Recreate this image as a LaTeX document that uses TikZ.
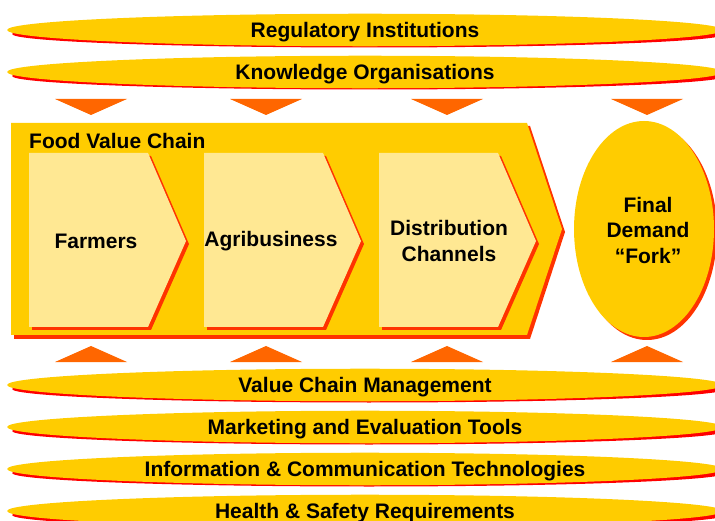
\documentclass[tikz,border=0pt]{standalone}
\usepackage{fontspec}
\setmainfont{Liberation Sans}
\usetikzlibrary{shapes.geometric}
\definecolor{gold}{HTML}{FFCC00}
\definecolor{pale}{HTML}{FFE893}
\definecolor{shred}{HTML}{FF0000}
\definecolor{chred}{HTML}{FF3300}
\definecolor{tri}{HTML}{FF6600}
\tikzset{
  band/.style={ellipse, fill=gold, minimum width=716, minimum height=27, inner sep=0pt,
    text height=19pt, text depth=4pt,
    font=\bfseries\fontsize{21}{24}\selectfont},
  lbl/.style={font=\bfseries\fontsize{21}{25.5}\selectfont, align=center, inner sep=0pt},
}
\newcommand{\bandat}[3]{%
  \fill[shred] (369,#1+4) ellipse (357 and 13.5);
  \node[band] (#2) at (365,#1) {#3};}
\newcommand{\dtri}[2]{\fill[tri] (#1-36,#2) -- (#1+36,#2) -- (#1,#2+16) -- cycle;}
\newcommand{\utri}[2]{\fill[tri] (#1-36,#2) -- (#1+36,#2) -- (#1,#2-16) -- cycle;}
\newcommand{\chev}[1]{%
  \fill[chred] (#1+3,156) -- (#1+122,156) -- (#1+160,244) -- (#1+122,330) -- (#1+3,330) -- cycle;
  \fill[pale] (#1,153) -- (#1+119,153) -- (#1+157,241) -- (#1+119,327) -- (#1,327) -- cycle;}
\begin{document}
\begin{tikzpicture}[x=1pt,y=-1pt]
\useasboundingbox (0,0) rectangle (715,521);
% top bands
\bandat{30}{reg}{Regulatory Institutions}
\bandat{72}{know}{Knowledge Organisations}
% down triangles
\dtri{91}{99}\dtri{266}{99}\dtri{447}{99}\dtri{647}{99}
% big chevron
\fill[chred] (14,126) -- (530,126) -- (565,232) -- (530,339) -- (14,339) -- cycle;
\fill[gold] (11,123) -- (527,123) -- (562,229) -- (527,335) -- (11,335) -- cycle;
\node[lbl, anchor=west] (fvc) at (29,141) {Food Value Chain};
\chev{29}\chev{204}\chev{379}
\node[lbl] (farm) at (96,241) {Farmers};
\node[lbl] (agri) at (271,241) {Agribusiness};
\node[lbl] (dist) at (449,241) {Distribution\\Channels};
% final demand
\fill[chred] (647,232) ellipse (70 and 108);
\node[ellipse, fill=gold, minimum width=140, minimum height=216, inner sep=0pt] (fd) at (644,229) {};
\node[lbl] (fdt) at (648,230) {Final\\Demand\\“Fork”};
% up triangles
\utri{91}{362}\utri{266}{362}\utri{447}{362}\utri{647}{362}
% bottom bands
\bandat{385}{vcm}{Value Chain Management}
\bandat{427}{met}{Marketing and Evaluation Tools}
\bandat{469}{ict}{Information \& Communication Technologies}
\bandat{511}{hsr}{Health \& Safety Requirements}
\end{tikzpicture}
\end{document}
